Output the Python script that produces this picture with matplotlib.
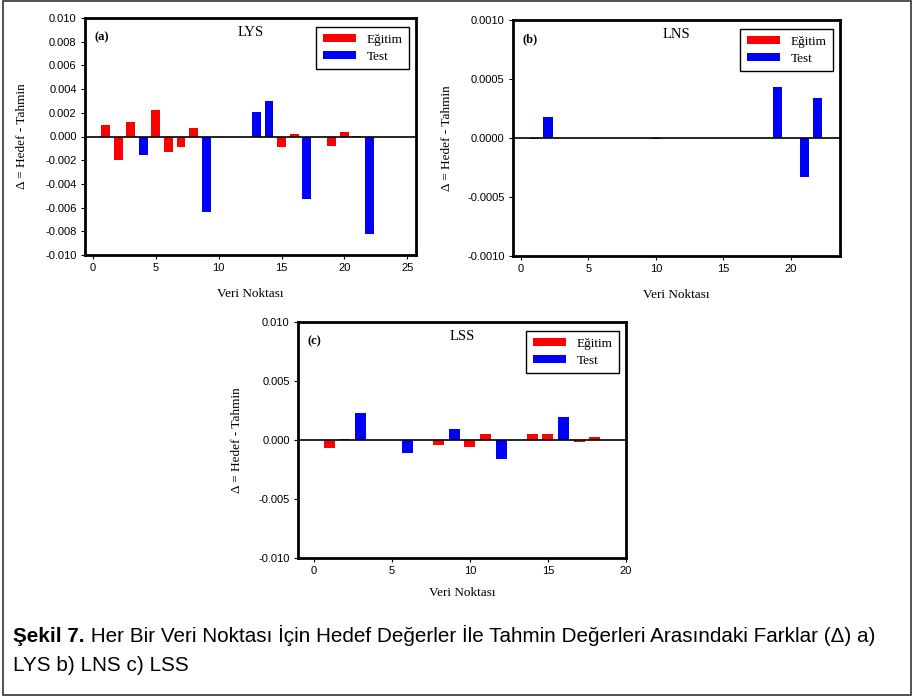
import matplotlib
matplotlib.use("Agg")
import matplotlib.pyplot as plt
from matplotlib.patches import Patch, Rectangle
from matplotlib.ticker import FormatStrFormatter

# ---------------- data ----------------
lys_train_x = [1, 2, 3, 5, 6, 7, 8, 15, 16, 19, 20, 21]
lys_train_y = [0.0010, -0.0020, 0.0012, 0.0022, -0.0013, -0.0009, 0.0007,
               -0.0009, 0.0002, -0.0008, 0.00035, 0.00006]
lys_test_x = [4, 9, 13, 14, 17, 22]
lys_test_y = [-0.0016, -0.0064, 0.0021, 0.0030, -0.0053, -0.0082]

lns_train_x = []
lns_train_y = []
lns_test_x = [1, 2, 10, 19, 21, 22]
lns_test_y = [-0.00001, 0.000176, -0.00001, 0.000430, -0.000330, 0.000340]

lss_train_x = [1, 2, 4, 5, 7, 8, 10, 11, 14, 15, 17, 18]
lss_train_y = [-0.00065, 0.00008, 0.00003, 0.00003, 0.00003, -0.0004,
               -0.00057, 0.0005, 0.00053, 0.00053, -0.0002, 0.00028]
lss_test_x = [3, 6, 9, 12, 16]
lss_test_y = [0.0023, -0.00107, 0.00093, -0.00163, 0.00194]

legend_labels = ["Eğitim", "Test"]
x_label = "Veri Noktası"
y_label = "Δ = Hedef - Tahmin"
caption_bold = "Şekil 7."
caption_rest1 = " Her Bir Veri Noktası İçin Hedef Değerler İle Tahmin Değerleri Arasındaki Farklar (Δ) a)"
caption_line2 = "LYS b) LNS c) LSS"

RED = "#ff0000"
BLUE = "#0000ff"
SERIF = ["Liberation Serif", "DejaVu Serif"]
SANS = ["Liberation Sans", "DejaVu Sans"]

W, H = 913, 698
fig = plt.figure(figsize=(W / 100, H / 100), dpi=100)


def px_axes(l, t, r, b):
    return fig.add_axes([l / W, 1 - b / H, (r - l) / W, (b - t) / H])


panels = [
    dict(box=(85, 18, 416, 255), xlim=(-0.64, 25.7), ylim=(-0.010, 0.010),
         yticks=[-0.010, -0.008, -0.006, -0.004, -0.002, 0.0, 0.002, 0.004, 0.006, 0.008, 0.010],
         xticks=[0, 5, 10, 15, 20, 25], fmt="%.3f",
         train=(lys_train_x, lys_train_y), test=(lys_test_x, lys_test_y),
         title="LYS", tag="(a)", ylx=-0.172, xly=-0.14),
    dict(box=(513, 20, 840, 256), xlim=(-0.59, 23.65), ylim=(-0.0010, 0.0010),
         yticks=[-0.0010, -0.0005, 0.0, 0.0005, 0.0010],
         xticks=[0, 5, 10, 15, 20], fmt="%.4f",
         train=(lns_train_x, lns_train_y), test=(lns_test_x, lns_test_y),
         title="LNS", tag="(b)", ylx=-0.185, xly=-0.14),
    dict(box=(298, 322, 626, 558), xlim=(-1.0, 20.0), ylim=(-0.010, 0.010),
         yticks=[-0.010, -0.005, 0.0, 0.005, 0.010],
         xticks=[0, 5, 10, 15, 20], fmt="%.3f",
         train=(lss_train_x, lss_train_y), test=(lss_test_x, lss_test_y),
         title="LSS", tag="(c)", ylx=-0.169, xly=-0.125),
]

for p in panels:
    ax = px_axes(*p["box"])
    ax.bar(p["train"][0], p["train"][1], width=0.7, color=RED, linewidth=0, zorder=2)
    ax.bar(p["test"][0], p["test"][1], width=0.7, color=BLUE, linewidth=0, zorder=2)
    ax.axhline(0, color="black", linewidth=1.2, zorder=3)
    ax.set_xlim(*p["xlim"])
    ax.set_ylim(*p["ylim"])
    ax.set_xticks(p["xticks"])
    ax.set_yticks(p["yticks"])
    ax.yaxis.set_major_formatter(FormatStrFormatter(p["fmt"]))
    for s in ax.spines.values():
        s.set_linewidth(2.0)
    ax.tick_params(direction="out", length=3, width=0.8, labelsize=8, pad=3)
    for lab in ax.get_xticklabels() + ax.get_yticklabels():
        lab.set_family(SANS)
    ax.set_xlabel(x_label, family=SERIF, fontsize=9.5)
    ax.set_ylabel(y_label, family=SERIF, fontsize=9.5)
    ax.yaxis.set_label_coords(p["ylx"], 0.5)
    ax.xaxis.set_label_coords(0.5, p["xly"])
    ax.text(0.5, 0.938, p["title"], transform=ax.transAxes, ha="center", va="center",
            family=SERIF, fontsize=10.5)
    ax.text(0.03, 0.92, p["tag"], transform=ax.transAxes, ha="left", va="center",
            family=SERIF, fontsize=9, fontweight="bold")
    handles = [Patch(facecolor=RED, edgecolor="none"), Patch(facecolor=BLUE, edgecolor="none")]
    leg = ax.legend(handles, legend_labels, loc="upper right", bbox_to_anchor=(0.979, 0.962),
                    borderaxespad=0, fancybox=False, framealpha=1, edgecolor="black",
                    prop={"family": SERIF, "size": 9.5}, handlelength=2.5, handleheight=0.6,
                    handletextpad=0.8, labelspacing=0.4, borderpad=0.5)
    leg.get_frame().set_linewidth(1.0)

# outer frame
fig.add_artist(Rectangle((3 / W, 1 - 695 / H), (911 - 3) / W, (695 - 1) / H,
                         transform=fig.transFigure, fill=False, edgecolor="#333333",
                         linewidth=1.2))

# caption
CAP = ["Liberation Sans", "DejaVu Sans"]
cap_size = 14.9
t1 = fig.text(13 / W, 1 - 641.7 / H, caption_bold, family=CAP, fontsize=cap_size,
              fontweight="bold", ha="left", va="baseline")
fig.canvas.draw()
r = fig.canvas.get_renderer()
bb = t1.get_window_extent(r)
fig.text(bb.x1 / W, 1 - 641.7 / H, caption_rest1, family=CAP, fontsize=cap_size,
         ha="left", va="baseline")
fig.text(13 / W, 1 - 670.7 / H, caption_line2, family=CAP, fontsize=cap_size,
         ha="left", va="baseline")

fig.savefig("out.png", dpi=100)
